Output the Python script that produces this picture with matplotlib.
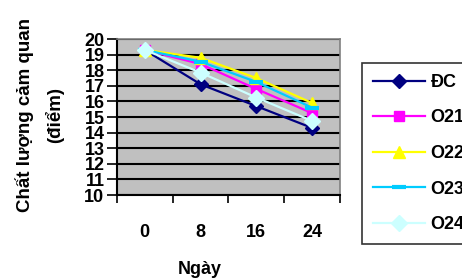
import matplotlib
matplotlib.use("Agg")
import matplotlib.pyplot as plt
from matplotlib.ticker import FixedLocator, NullFormatter

plt.rcParams['font.family'] = ['Liberation Sans', 'DejaVu Sans']

days = ["0", "8", "16", "24"]
series_names = ["ĐC", "O21", "O22", "O23", "O24"]
dc = [19.3, 17.1, 15.7, 14.3]
o21 = [19.3, 18.4, 16.8, 15.25]
o22 = [19.3, 18.8, 17.5, 15.9]
o23 = [19.3, 18.55, 17.25, 15.6]
o24 = [19.3, 17.85, 16.25, 14.75]
yticks = list(range(10, 21))

values = [dc, o21, o22, o23, o24]
colors = ["#000080", "#FF00FF", "#FFFF00", "#00CCFF", "#CCFFFF"]
markers = ["D", "s", "^", "_", "D"]
msizes = [7, 7, 8, 10, 8]

fig = plt.figure(figsize=(4.62, 2.79), dpi=100)
ax = fig.add_axes([0.253, 0.301, 0.483, 0.559])
ax.set_facecolor("#C0C0C0")

x = list(range(len(days)))
handles = []
for name, vals, c, m, ms in zip(series_names, values, colors, markers, msizes):
    kw = dict(markeredgewidth=3) if m == "_" else dict(markeredgecolor=c)
    h, = ax.plot(x, vals, color=c, marker=m, markersize=ms, linewidth=1.6,
                 label=name, markerfacecolor=c, zorder=3, **kw)
    handles.append(h)

ax.set_xlim(-0.5, 3.5)
ax.set_ylim(10, 20)
ax.set_yticks(yticks)
ax.yaxis.grid(True, color="black", linewidth=1.5)
ax.set_axisbelow(True)

ax.xaxis.set_major_locator(FixedLocator([-0.5, 0.5, 1.5, 2.5, 3.5]))
ax.xaxis.set_major_formatter(NullFormatter())
ax.xaxis.set_minor_locator(FixedLocator(x))
ax.set_xticklabels(days, minor=True)
ax.tick_params(axis='x', which='major', direction='out', length=6, width=1.2, color='black')
ax.tick_params(axis='x', which='minor', length=0, pad=21, labelsize=13)
ax.tick_params(axis='y', direction='out', length=7, width=1.2, labelsize=13, pad=2)
for lab in ax.get_xticklabels(minor=True) + ax.get_yticklabels():
    lab.set_fontweight('bold')

for s in ['top', 'right']:
    ax.spines[s].set_color('#808080')
    ax.spines[s].set_linewidth(1.2)
ax.spines['left'].set_linewidth(1.5)
ax.spines['bottom'].set_linewidth(1.5)

fig.text(200 / 462, 1 - 269 / 279, "Ngày", fontsize=13, fontweight='bold',
         ha='center', va='center')
fig.text(40 / 462, 1 - 115 / 279, "Chất lượng cảm quan\n(điểm)", fontsize=13.5,
         fontweight='bold', rotation=90, ha='center', va='center',
         multialignment='center', linespacing=1.75)

leg = fig.legend(handles=handles, loc='upper left', bbox_to_anchor=(362 / 462, 1 - 63 / 279),
                 borderaxespad=0, frameon=True, fancybox=False, edgecolor='black',
                 prop={'weight': 'bold', 'size': 13}, handlelength=2.9,
                 labelspacing=1.03, borderpad=0.6, handletextpad=0.3)
leg.get_frame().set_linewidth(1.2)

fig.savefig("out.png", dpi=100)
